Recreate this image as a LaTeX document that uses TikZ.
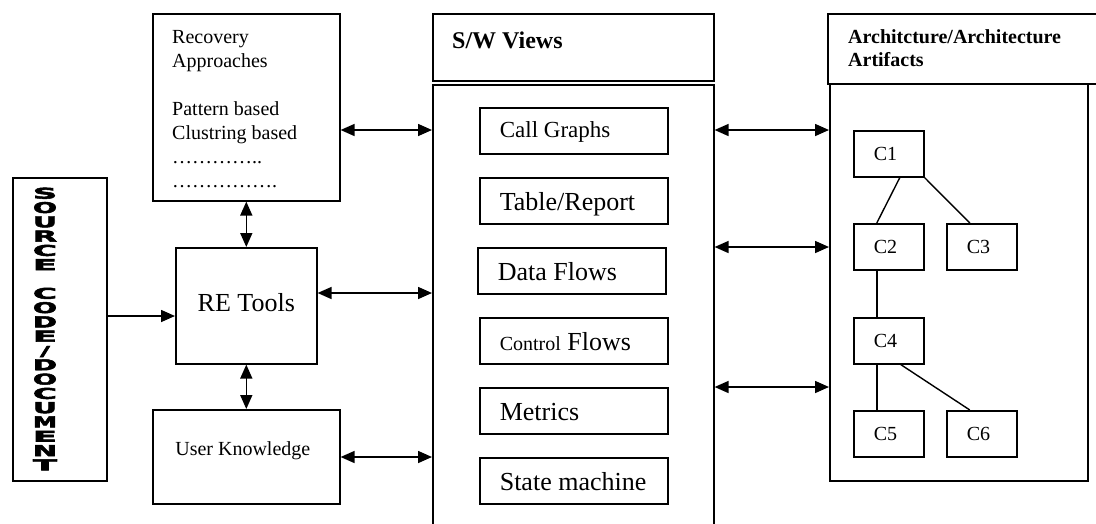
\documentclass[tikz,border=0pt]{standalone}
\usepackage{fontspec}
\setmainfont{Liberation Serif}
\newfontfamily\heavyfont{DejaVu Sans Bold}[FakeBold=3]
\usetikzlibrary{arrows.meta}
\newcommand{\stk}[1]{\resizebox{24pt}{11pt}{\heavyfont #1}}
\newcommand{\stkslash}{\resizebox{10pt}{10pt}{\heavyfont /}}
\begin{document}
\begin{tikzpicture}[x=1pt,y=-1pt,
  bx/.style={draw, line width=1.6pt, inner sep=0pt},
  viewbox/.style={bx, anchor=north west, minimum width=188pt, minimum height=46pt,
    text width=148pt, align=flush left, text height=20pt, text depth=0pt,
    font=\fontsize{26}{28}\selectfont},
  cbox/.style={bx, anchor=north west, minimum width=70pt, minimum height=46pt,
    text width=30pt, align=flush left, text height=13pt, text depth=0pt,
    font=\fontsize{20}{22}\selectfont},
  tip/.tip={Triangle[length=14pt,width=12pt]},
  arr/.style={line width=1.6pt, -tip},
  darr/.style={line width=1.6pt, tip-tip},
  link/.style={line width=1.4pt}]
\useasboundingbox (0,0) rectangle (1096,523);

% source code / document
\node[bx, anchor=north west, minimum width=94pt, minimum height=303pt] (src) at (12,177) {};
\node[inner sep=0pt, align=center, font=\fontsize{11}{14.3}\selectfont] (srclabel) at (45,329)
  {\stk{S}\\\stk{O}\\\stk{U}\\\stk{R}\\\stk{C}\\\stk{E}\\\mbox{}\\\stk{C}\\\stk{O}\\\stk{D}\\\stk{E}\\\stkslash\\\stk{D}\\\stk{O}\\\stk{C}\\\stk{U}\\\stk{M}\\\stk{E}\\\stk{N}\\\stk{T}};

% recovery approaches
\node[bx, anchor=north west, minimum width=187pt, minimum height=187pt] (rec) at (152,13) {};
\node[inner sep=0pt, anchor=north west, align=left, font=\fontsize{20}{24}\selectfont] (rectext) at (172,29.8)
  {Recovery\\Approaches\\\mbox{}\\Pattern based\\Clustring based\\…………..\\…………….};

% RE tools
\node[bx, anchor=north west, minimum width=141pt, minimum height=116pt,
  font=\fontsize{26}{28}\selectfont, text height=18pt, text depth=6pt] (re) at (175,247) {RE Tools};

% user knowledge
\node[bx, anchor=north west, minimum width=187pt, minimum height=94pt,
  font=\fontsize{20}{22}\selectfont, text height=14pt, text depth=16pt] (uk) at (152,409) {User Knowledge\hspace*{7pt}};

% S/W views
\node[bx, anchor=north west, minimum width=281pt, minimum height=67pt] (swhead) at (432,13) {};
\node[inner sep=0pt, anchor=base west, font=\fontsize{24}{26}\selectfont\bfseries] (swtitle) at (452,48) {S/W Views};
\node[bx, anchor=north west, minimum width=281pt, minimum height=470pt] (swbody) at (432,84) {};

\node[viewbox, text height=14pt, font=\fontsize{23}{25}\selectfont] (cg) at (479,107) {\mbox{Call Graphs}};
\node[viewbox] (tr) at (479,177) {\mbox{Table/Report}};
\node[viewbox] (df) at (477,247) {\mbox{Data Flows}};
\node[viewbox] (cf) at (479,317) {\mbox{{\fontsize{20}{22}\selectfont Control} Flows}};
\node[viewbox] (me) at (479,387) {\mbox{Metrics}};
\node[viewbox] (sm) at (479,457) {\mbox{State machine}};

% architecture
\node[bx, anchor=north west, minimum width=290pt, minimum height=70pt] (archhead) at (827,13) {};
\node[inner sep=0pt, anchor=north west, align=left, font=\fontsize{20}{23}\selectfont\bfseries] (archtitle) at (848,29.5)
  {Architcture/Architecture\\Artifacts};
\node[bx, anchor=north west, minimum width=258pt, minimum height=397pt] (archbody) at (829,83) {};

\node[cbox] (c1) at (853,130) {C1};
\node[cbox] (c2) at (853,223) {C2};
\node[cbox] (c3) at (946,223) {C3};
\node[cbox] (c4) at (853,317) {C4};
\node[cbox] (c5) at (853,410) {C5};
\node[cbox] (c6) at (946,410) {C6};

\draw[link] ([xshift=11pt]c1.south) -- ([xshift=-12pt]c2.north);
\draw[link] (c1.south east) -- ([xshift=-12pt]c3.north);
\draw[link] ([xshift=-12pt]c2.south) -- ([xshift=-12pt]c4.north);
\draw[link] ([xshift=-12pt]c4.south) -- ([xshift=-12pt]c5.north);
\draw[link] ([xshift=12pt]c4.south) -- ([xshift=-12pt]c6.north);

% connectors
\draw[arr] (src.east |- 0,316) -- (re.west |- 0,316);
\draw[darr] (rec.south) -- (re.north);
\draw[darr] (re.south) -- (uk.north);
\draw[darr] (rec.east |- 0,130) -- (swbody.west |- 0,130);
\draw[darr] (re.east |- 0,293) -- (swbody.west |- 0,293);
\draw[darr] (uk.east |- 0,457) -- (swbody.west |- 0,457);
\draw[darr] (swbody.east |- 0,130) -- (archbody.west |- 0,130);
\draw[darr] (swbody.east |- 0,247) -- (archbody.west |- 0,247);
\draw[darr] (swbody.east |- 0,387) -- (archbody.west |- 0,387);
\end{tikzpicture}
\end{document}
